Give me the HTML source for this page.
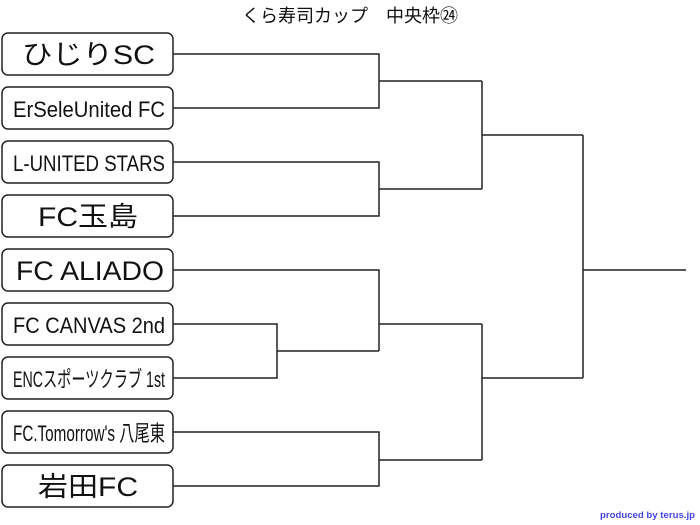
<!DOCTYPE html>
<html><head><meta charset="utf-8"><style>
html,body{margin:0;padding:0;background:#fff;}
svg{display:block;}
text{font-family:"Liberation Sans","Noto Sans CJK JP",sans-serif;fill:#111;}
</style></head><body>
<svg width="700" height="525" viewBox="0 0 700 525" xmlns="http://www.w3.org/2000/svg">
<text x="350" y="22" font-size="18" text-anchor="middle">くら寿司カップ　中央枠㉔</text>
<g fill="#fff" stroke="#222" stroke-width="1.5">
<rect x="2" y="33" width="171" height="42" rx="6"/>
<rect x="2" y="87" width="171" height="42" rx="6"/>
<rect x="2" y="141" width="171" height="42" rx="6"/>
<rect x="2" y="195" width="171" height="42" rx="6"/>
<rect x="2" y="249" width="171" height="42" rx="6"/>
<rect x="2" y="303" width="171" height="42" rx="6"/>
<rect x="2" y="357" width="171" height="42" rx="6"/>
<rect x="2" y="411" width="171" height="42" rx="6"/>
<rect x="2" y="465" width="171" height="42" rx="6"/>
</g>
<g font-size="27">
<text x="22" y="64" textLength="133" lengthAdjust="spacingAndGlyphs">ひじりSC</text>
<text x="38" y="226" textLength="100" lengthAdjust="spacingAndGlyphs">FC玉島</text>
<text x="16" y="280" textLength="148" lengthAdjust="spacingAndGlyphs">FC ALIADO</text>
<text x="38" y="496" textLength="100" lengthAdjust="spacingAndGlyphs">岩田FC</text>
</g>
<g font-size="22">
<text x="13" y="117" textLength="152" lengthAdjust="spacingAndGlyphs">ErSeleUnited FC</text>
<text x="13" y="171" textLength="152" lengthAdjust="spacingAndGlyphs">L-UNITED STARS</text>
<text x="13" y="333" textLength="152" lengthAdjust="spacingAndGlyphs">FC CANVAS 2nd</text>
<text x="13" y="387" textLength="152" lengthAdjust="spacingAndGlyphs">ENCスポーツクラブ 1st</text>
<text x="13" y="441" textLength="152" lengthAdjust="spacingAndGlyphs">FC.Tomorrow's 八尾東</text>
</g>
<g fill="none" stroke="#222" stroke-width="1.5">
<path d="M173 54H379V108H173M379 81H482"/>
<path d="M173 162H379V216H173M379 189H482"/>
<path d="M482 81V189M482 135H583"/>
<path d="M173 324H277V378H173M277 351H379"/>
<path d="M173 270H379V351M379 324H482"/>
<path d="M173 432H379V486H173M379 460H482"/>
<path d="M482 324V460M482 378H583"/>
<path d="M583 135V378M583 270H686"/>
</g>
<text x="695" y="518" font-size="9.5" font-weight="bold" text-anchor="end" textLength="95" lengthAdjust="spacingAndGlyphs" style="fill:#4444ee">produced by terus.jp</text>
</svg>
</body></html>
